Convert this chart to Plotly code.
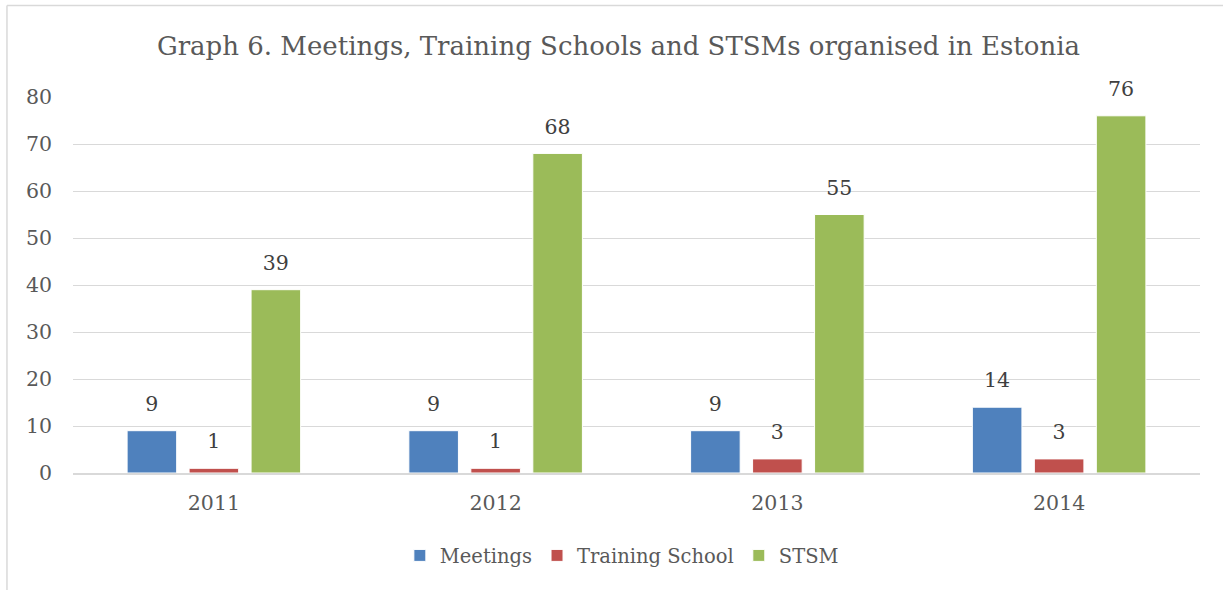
import plotly.graph_objects as go

years = ["2011", "2012", "2013", "2014"]
meetings = [9, 9, 9, 14]
training = [1, 1, 3, 3]
stsm = [39, 68, 55, 76]
series_names = ["Meetings", "Training School", "STSM"]
colors = ["#4F81BD", "#C0504D", "#9BBB59"]

FONT = "DejaVu Serif"
TXT = "#595959"

fig = go.Figure()
for name, vals, col in zip(series_names, [meetings, training, stsm], colors):
    fig.add_trace(go.Bar(
        x=years, y=vals, name=name, offsetgroup=name,
        marker=dict(color=col, line=dict(color="white", width=1)),
    ))
for name, vals in zip(series_names, [meetings, training, stsm]):
    fig.add_trace(go.Scatter(
        x=years, y=vals, offsetgroup=name, mode="markers+text",
        marker=dict(size=22, opacity=0),
        text=[str(v) for v in vals], textposition="top center",
        textfont=dict(family=FONT, size=20.5, color="#404040"),
        showlegend=False, hoverinfo="skip", cliponaxis=False,
    ))

fig.update_layout(
    width=1223, height=590,
    paper_bgcolor="white", plot_bgcolor="white",
    margin=dict(l=73, r=23, t=97, b=117),
    barmode="group", bargap=0.34, bargroupgap=0.2,
    scattermode="group", scattergap=0.34,
    font=dict(family=FONT, color=TXT, size=20.5),
    title=dict(text="Graph 6. Meetings, Training Schools and STSMs organised in Estonia",
               x=0.5057, xanchor="center", y=0.922, yanchor="middle",
               font=dict(family=FONT, size=26, color=TXT)),
    legend=dict(orientation="h", x=0.487, xanchor="center", y=-0.22, yanchor="middle",
                font=dict(family=FONT, size=19.5, color=TXT), traceorder="normal"),
    showlegend=True,
)
fig.update_xaxes(showgrid=False, showline=True, linecolor="#d9d9d9", linewidth=1.5,
                 ticks="", ticklabelstandoff=11, tickfont=dict(size=20.5, color=TXT),
                 automargin=False)
fig.update_yaxes(range=[0, 80], dtick=10, showgrid=True, gridcolor="#d9d9d9", gridwidth=1.3,
                 zeroline=False, showline=False, ticks="", ticklabelstandoff=20,
                 tickfont=dict(size=20.5, color=TXT), automargin=False)

# chart-area border (top and left edges visible)
fig.add_shape(type="line", xref="paper", yref="paper", x0=-0.0586, x1=1.03, y0=1.2434, y1=1.2434,
              line=dict(color="#d9d9d9", width=1.5))
fig.add_shape(type="line", xref="paper", yref="paper", x0=-0.0586, x1=-0.0586, y0=1.2434, y1=-0.32,
              line=dict(color="#d9d9d9", width=1.5))

fig.write_html("out.html", config={"displayModeBar": False},
               post_script="document.body.style.margin='0';")
